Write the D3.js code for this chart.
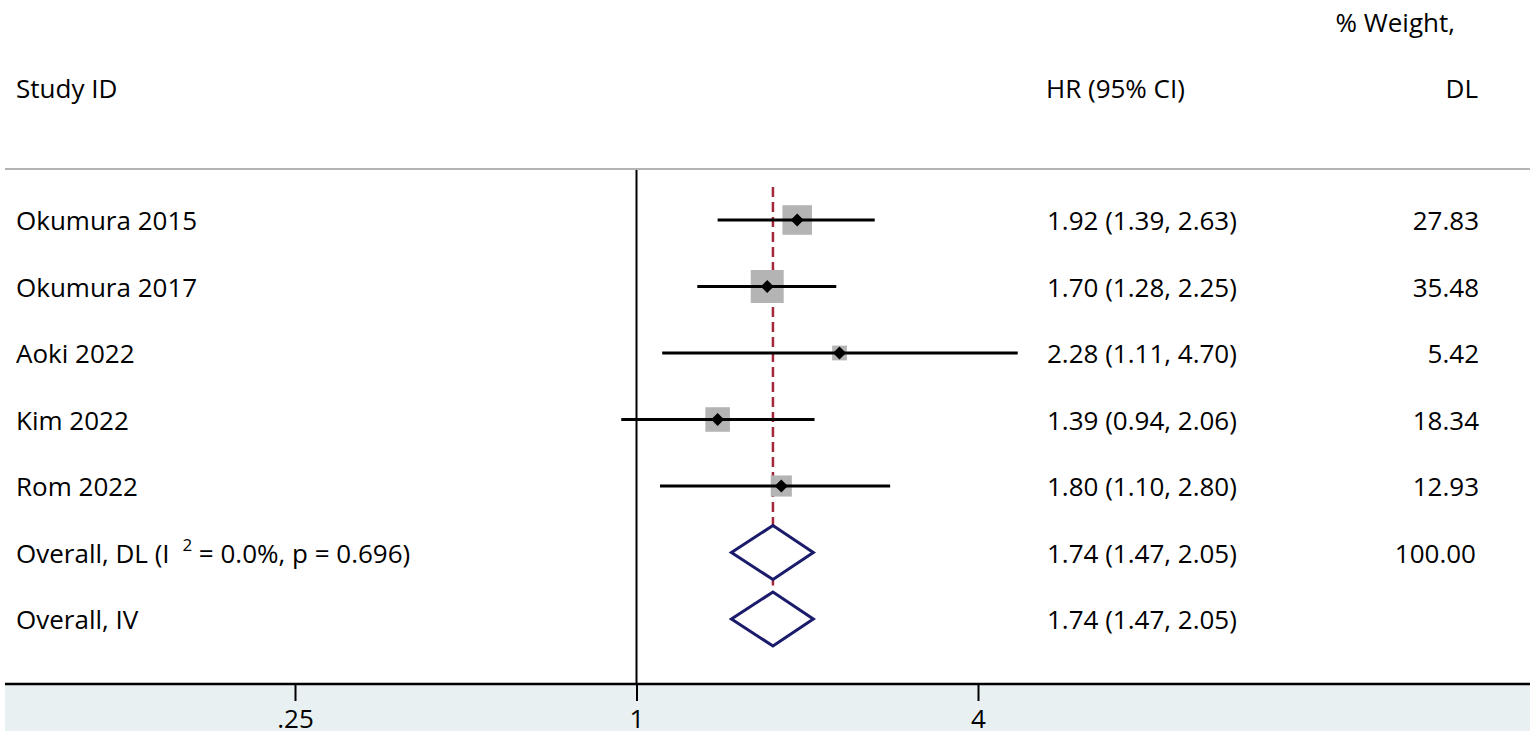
<!DOCTYPE html>
<html>
<head>
<meta charset="utf-8">
<script src="https://cdn.jsdelivr.net/npm/d3@7"></script>
<style>
  body { margin: 0; background: #fff; }
  svg { display: block; font-family: "Open Sans", sans-serif; }
</style>
</head>
<body>
<div id="chart"></div>
<script>
const width = 1536, height = 737;

// data
const studies = ["Okumura 2015", "Okumura 2017", "Aoki 2022", "Kim 2022", "Rom 2022"];
const hr      = [1.92, 1.70, 2.28, 1.39, 1.80];
const lower   = [1.39, 1.28, 1.11, 0.94, 1.10];
const upper   = [2.63, 2.25, 4.70, 2.06, 2.80];
const weights = [27.83, 35.48, 5.42, 18.34, 12.93];

const pooledLabels = ["Overall, DL", "Overall, IV"];
const pooledHr     = [1.74, 1.74];
const pooledLower  = [1.47, 1.47];
const pooledUpper  = [2.05, 2.05];
const pooledWeight = ["100.00", ""];
const i2 = "0.0%", pval = "0.696";

const tickValues = [0.25, 1, 4];
const tickLabels = [".25", "1", "4"];

const fmt = d3.format(".2f");

const svg = d3.select("#chart").append("svg")
    .attr("width", width)
    .attr("height", height);

const x = d3.scaleLog().domain([0.25, 4]).range([295, 978]);
const rows = studies.concat(pooledLabels);
const y = d3.scalePoint().domain(rows).range([220, 619]);
const boxSize = d3.scaleSqrt().domain([0, d3.max(weights)]).range([0, 30]);

const axisY = 684;
const fontSize = 26;

// bottom panel
svg.append("rect")
    .attr("x", 5).attr("y", axisY)
    .attr("width", 1525).attr("height", 731 - axisY)
    .attr("fill", "#e9f0f2");

// header
svg.append("text").attr("x", 16).attr("y", 98).attr("font-size", fontSize).text("Study ID");
svg.append("text").attr("x", 1046).attr("y", 98).attr("font-size", fontSize).text("HR (95% CI)");
svg.append("text").attr("x", 1455).attr("y", 32).attr("font-size", fontSize)
    .attr("text-anchor", "end").text("% Weight,");
svg.append("text").attr("x", 1478).attr("y", 98).attr("font-size", fontSize)
    .attr("text-anchor", "end").text("DL");

svg.append("line")
    .attr("x1", 5).attr("x2", 1530)
    .attr("y1", 169).attr("y2", 169)
    .attr("stroke", "#b3b3b3").attr("stroke-width", 2);

// null line at HR = 1
svg.append("line")
    .attr("x1", x(1)).attr("x2", x(1))
    .attr("y1", 170).attr("y2", axisY)
    .attr("stroke", "#000").attr("stroke-width", 2);

// pooled estimate line
svg.append("line")
    .attr("x1", x(pooledHr[0])).attr("x2", x(pooledHr[0]))
    .attr("y1", y(rows[0]) - 33).attr("y2", y(pooledLabels[0]) + 33)
    .attr("stroke", "#a3283a").attr("stroke-width", 2.5)
    .attr("stroke-dasharray", "10,5");

// study rows
const g = svg.append("g");
studies.forEach((s, i) => {
    const cy = y(s);
    const side = 3 + boxSize(weights[i]);
    g.append("rect")
        .attr("x", x(hr[i]) - side / 2).attr("y", cy - side / 2)
        .attr("width", side).attr("height", side)
        .attr("fill", "#b4b4b4");
    g.append("line")
        .attr("x1", x(lower[i])).attr("x2", x(upper[i]))
        .attr("y1", cy).attr("y2", cy)
        .attr("stroke", "#000").attr("stroke-width", 3);
    g.append("path")
        .attr("d", d3.symbol(d3.symbolSquare, 85)())
        .attr("transform", `translate(${x(hr[i])},${cy}) rotate(45)`)
        .attr("fill", "#000");

    g.append("text").attr("x", 16).attr("y", cy + 10).attr("font-size", fontSize).text(s);
    g.append("text").attr("x", 1047).attr("y", cy + 10).attr("font-size", fontSize)
        .text(`${fmt(hr[i])} (${fmt(lower[i])}, ${fmt(upper[i])})`);
    g.append("text").attr("x", 1479).attr("y", cy + 10).attr("font-size", fontSize)
        .attr("text-anchor", "end").text(fmt(weights[i]));
});

// pooled rows
pooledLabels.forEach((s, i) => {
    const cy = y(s);
    const pts = [
        [x(pooledLower[i]), cy],
        [x(pooledHr[i]), cy - 27],
        [x(pooledUpper[i]), cy],
        [x(pooledHr[i]), cy + 27]
    ];
    g.append("path")
        .attr("d", d3.line()(pts) + "Z")
        .attr("fill", "#fff")
        .attr("stroke", "#1b1b6b").attr("stroke-width", 3)
        .attr("stroke-linejoin", "miter");

    const t = g.append("text").attr("x", 16).attr("y", cy + 10).attr("font-size", fontSize);
    if (i === 0) {
        t.append("tspan").text(s + " (I ");
        t.append("tspan").attr("font-size", 17).attr("dy", -12).attr("dx", 6).text("2");
        t.append("tspan").attr("dy", 12).text(` = ${i2}, p = ${pval})`);
    } else {
        t.text(s);
    }
    g.append("text").attr("x", 1047).attr("y", cy + 10).attr("font-size", fontSize)
        .text(`${fmt(pooledHr[i])} (${fmt(pooledLower[i])}, ${fmt(pooledUpper[i])})`);
    g.append("text").attr("x", 1476).attr("y", cy + 10).attr("font-size", fontSize)
        .attr("text-anchor", "end").text(pooledWeight[i]);
});

// x axis
const axis = svg.append("g")
    .attr("transform", `translate(0,${axisY})`)
    .call(d3.axisBottom(x)
        .tickValues(tickValues)
        .tickFormat((d, i) => tickLabels[i])
        .tickSize(17)
        .tickPadding(9));
axis.select(".domain").remove();
axis.selectAll(".tick line").attr("stroke", "#000").attr("stroke-width", 2);
axis.selectAll(".tick text")
    .attr("font-size", fontSize)
    .attr("font-family", "'Open Sans', sans-serif")
    .attr("fill", "#000");

svg.append("line")
    .attr("x1", 5).attr("x2", 1530)
    .attr("y1", axisY).attr("y2", axisY)
    .attr("stroke", "#000").attr("stroke-width", 2.5);
</script>
</body>
</html>
